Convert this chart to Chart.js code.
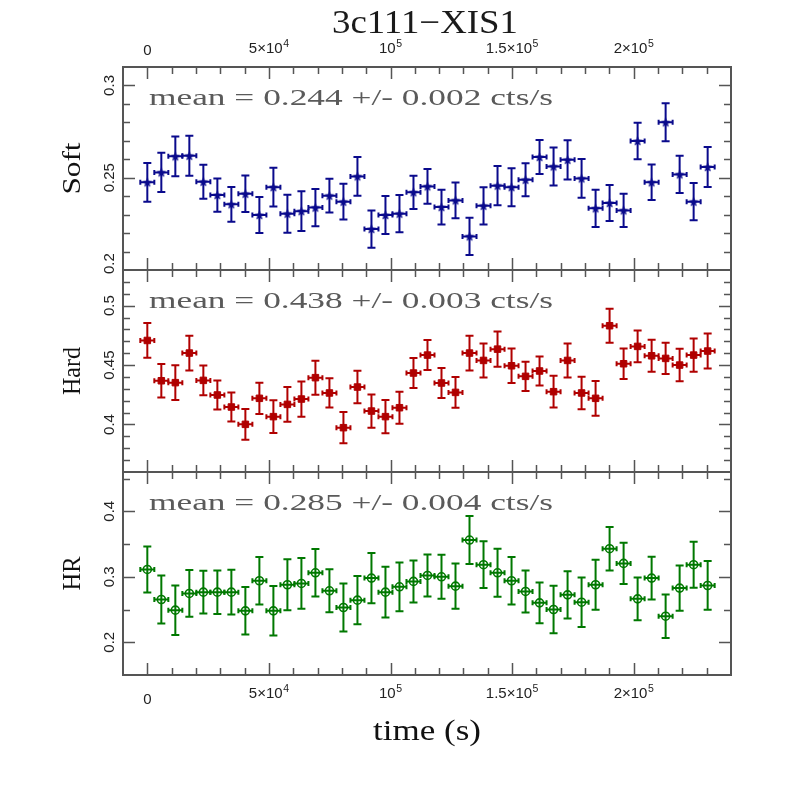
<!DOCTYPE html>
<html>
<head>
<meta charset="utf-8">
<script src="https://cdn.jsdelivr.net/npm/chart.js@4/dist/chart.umd.min.js"></script>
<style>
html,body{margin:0;padding:0;background:#fff;width:797px;height:797px;overflow:hidden}
#wrap{position:relative;width:797px;height:797px;background:#fff}
canvas{position:absolute;left:0;top:0}
</style>
</head>
<body>
<div id="wrap">
<canvas id="c0" width="797" height="797"></canvas>
<canvas id="c1" width="797" height="797"></canvas>
<canvas id="c2" width="797" height="797"></canvas>
</div>
<script>
// ---------------- DATA ----------------
const chartTitle = '3c111\u2212XIS1';
const xAxisTitle = 'time (s)';
const timeValues = [0,5760,11520,17280,23040,28800,34560,40320,46080,51840,57600,63360,69120,74880,80640,86400,92160,97920,103680,109440,115200,120960,126720,132480,138240,144000,149760,155520,161280,167040,172800,178560,184320,190080,195840,201600,207360,213120,218880,224640,230400];
const timeHalfWidth = 2880;

const softValues = [0.2475,0.2529,0.2616,0.2619,0.2478,0.2406,0.2356,0.2413,0.2298,0.2449,0.2305,0.2319,0.2338,0.2403,0.2370,0.2507,0.2222,0.2298,0.2305,0.2421,0.2453,0.2341,0.2377,0.2182,0.2348,0.2457,0.2449,0.2489,0.2612,0.2561,0.2597,0.2496,0.2334,0.2363,0.2323,0.2699,0.2475,0.2800,0.2518,0.2370,0.2558];
const softErrors = [0.0105,0.0106,0.0108,0.0108,0.0092,0.0090,0.0094,0.0099,0.0097,0.0105,0.0103,0.0108,0.0101,0.0092,0.0097,0.0105,0.0101,0.0103,0.0101,0.0090,0.0094,0.0094,0.0097,0.0101,0.0101,0.0106,0.0103,0.0090,0.0092,0.0103,0.0106,0.0105,0.0101,0.0097,0.0090,0.0099,0.0096,0.0103,0.0101,0.0101,0.0108];

const hardValues = [0.4707,0.4368,0.4352,0.4601,0.4371,0.4248,0.4147,0.4001,0.4220,0.4066,0.4169,0.4214,0.4394,0.4265,0.3973,0.4315,0.4113,0.4066,0.4141,0.4433,0.4584,0.4349,0.4270,0.4601,0.4539,0.4634,0.4494,0.4405,0.4450,0.4276,0.4539,0.4265,0.4220,0.4831,0.4511,0.4657,0.4578,0.4556,0.4500,0.4584,0.4618];
const hardErrors = [0.0146,0.0140,0.0146,0.0146,0.0126,0.0123,0.0123,0.0129,0.0132,0.0137,0.0146,0.0148,0.0143,0.0123,0.0132,0.0137,0.0140,0.0140,0.0134,0.0126,0.0126,0.0126,0.0129,0.0146,0.0143,0.0148,0.0146,0.0123,0.0123,0.0134,0.0143,0.0137,0.0146,0.0143,0.0129,0.0134,0.0134,0.0132,0.0137,0.0140,0.0148];

const hrValues = [0.3112,0.2653,0.2490,0.2745,0.2765,0.2765,0.2765,0.2480,0.2939,0.2480,0.2878,0.2898,0.3061,0.2786,0.2531,0.2643,0.2980,0.2765,0.2847,0.2929,0.3020,0.3000,0.2857,0.3561,0.3184,0.3061,0.2939,0.2776,0.2602,0.2500,0.2724,0.2612,0.2878,0.3429,0.3204,0.2663,0.2980,0.2398,0.2827,0.3184,0.2867];
const hrErrors = [0.0352,0.0367,0.0378,0.0357,0.0327,0.0332,0.0342,0.0362,0.0362,0.0378,0.0388,0.0388,0.0362,0.0327,0.0367,0.0367,0.0383,0.0388,0.0372,0.0321,0.0321,0.0337,0.0347,0.0367,0.0357,0.0367,0.0362,0.0321,0.0311,0.0362,0.0362,0.0378,0.0383,0.0332,0.0316,0.0327,0.0327,0.0332,0.0347,0.0352,0.0372];

const panelNames = ['Soft','Hard','HR'];
const meanTexts = ['mean = 0.244 +/- 0.002 cts/s','mean = 0.438 +/- 0.003 cts/s','mean = 0.285 +/- 0.004 cts/s'];

const xRange = [-10000, 240000];
const xMajorTicks = [0, 50000, 100000, 150000, 200000];
const xTickBase = ['0', '5\u00d710', '10', '1.5\u00d710', '2\u00d710'];
const xTickExp  = ['',  '4',       '5',  '5',           '5'];
const xMinorStep = 10000;

const softRange = [0.2, 0.31];
const hardRange = [0.36, 0.53];
const hrRange = [0.15, 0.46];
const softTicks = [0.2, 0.25, 0.3];
const hardTicks = [0.4, 0.45, 0.5];
const hrTicks = [0.2, 0.3, 0.4];
const softTickLabels = ['0.2','0.25','0.3'];
const hardTickLabels = ['0.4','0.45','0.5'];
const hrTickLabels = ['0.2','0.3','0.4'];
const softMinor = 0.01, hardMinor = 0.01, hrMinor = 0.05;

// ---------------- LAYOUT / STYLE ----------------
const W = 797, H = 797;
const plotLeft = 123, plotRight = 731;
const panelEdges = [67, 270, 472, 675];
const frameColor = '#555555';
const textColor = '#222222';
const serif = '"Liberation Serif", "Times New Roman", serif';
const sans = '"Liberation Sans", Arial, sans-serif';

function starImage(color) {
  const c = document.createElement('canvas');
  c.width = 12; c.height = 12;
  const g = c.getContext('2d');
  g.fillStyle = color;
  g.beginPath();
  for (let k = 0; k < 10; k++) {
    const r = (k % 2 === 0) ? 5.2 : 2.3;
    const a = -Math.PI / 2 + k * Math.PI / 5;
    const px = 6 + r * Math.cos(a), py = 6.4 + r * Math.sin(a);
    if (k === 0) g.moveTo(px, py); else g.lineTo(px, py);
  }
  g.closePath(); g.fill();
  return c;
}

const panels = [
  {values: softValues, errors: softErrors, range: softRange, ticks: softTicks, tickLabels: softTickLabels, minor: softMinor,
   color: '#0a0a8c', pointStyle: starImage('#0a0a8c'), radius: 5, fill: '#0a0a8c', bw: 0},
  {values: hardValues, errors: hardErrors, range: hardRange, ticks: hardTicks, tickLabels: hardTickLabels, minor: hardMinor,
   color: '#b00000', pointStyle: 'rect', radius: 4.6, fill: '#b00000', bw: 1},
  {values: hrValues, errors: hrErrors, range: hrRange, ticks: hrTicks, tickLabels: hrTickLabels, minor: hrMinor,
   color: '#007800', pointStyle: 'circle', radius: 4, fill: 'rgba(0,0,0,0)', bw: 1.6}
];

function fitText(ctx, text, x, y, targetW, align) {
  const w0 = ctx.measureText(text).width;
  const sx = targetW / w0;
  ctx.save();
  ctx.translate(x, y);
  ctx.scale(sx, 1);
  ctx.textAlign = align;
  ctx.fillText(text, 0, 0);
  ctx.restore();
}

function drawExpLabel(ctx, base, exp, cx, baseline) {
  const baseFont = '15px ' + sans;
  const supFont = '10.5px ' + sans;
  ctx.font = baseFont;
  const wb = ctx.measureText(base).width;
  ctx.font = supFont;
  const we = exp ? ctx.measureText(exp).width + 0.5 : 0;
  const x0 = cx - (wb + we) / 2;
  ctx.textAlign = 'left';
  ctx.textBaseline = 'alphabetic';
  ctx.font = baseFont;
  ctx.fillText(base, x0, baseline);
  if (exp) { ctx.font = supFont; ctx.fillText(exp, x0 + wb + 0.5, baseline - 6); }
}

const errorBarPlugin = {
  id: 'errbars',
  beforeDatasetsDraw(chart, args, opts) {
    const ctx = chart.ctx, xs = chart.scales.x, ys = chart.scales.y;
    const p = opts.panel;
    ctx.save();
    ctx.strokeStyle = p.color;
    ctx.lineWidth = 2;
    ctx.lineCap = 'butt';
    timeValues.forEach((t, i) => {
      const v = p.values[i], e = p.errors[i];
      const px = xs.getPixelForValue(t), py = ys.getPixelForValue(v);
      const x1 = xs.getPixelForValue(t - timeHalfWidth), x2 = xs.getPixelForValue(t + timeHalfWidth);
      const y1 = ys.getPixelForValue(v - e), y2 = ys.getPixelForValue(v + e);
      ctx.beginPath();
      ctx.moveTo(px, y1); ctx.lineTo(px, y2);
      ctx.moveTo(px - 4, y1); ctx.lineTo(px + 4, y1);
      ctx.moveTo(px - 4, y2); ctx.lineTo(px + 4, y2);
      ctx.moveTo(x1, py); ctx.lineTo(x2, py);
      ctx.moveTo(x1, py - 2.5); ctx.lineTo(x1, py + 2.5);
      ctx.moveTo(x2, py - 2.5); ctx.lineTo(x2, py + 2.5);
      ctx.stroke();
    });
    ctx.restore();
  }
};

const framePlugin = {
  id: 'frame',
  afterDraw(chart, args, opts) {
    const ctx = chart.ctx, xs = chart.scales.x, ys = chart.scales.y;
    const a = chart.chartArea;
    const p = opts.panel, idx = opts.index;
    ctx.save();
    // ticks
    ctx.strokeStyle = frameColor;
    ctx.lineWidth = 1.5;
    ctx.beginPath();
    const nX = Math.round((xRange[1] - xRange[0]) / xMinorStep);
    for (let k = 1; k < nX; k++) {
      const t = xRange[0] + k * xMinorStep;
      const px = Math.round(xs.getPixelForValue(t)) + 0.5;
      const len = xMajorTicks.includes(t) ? 12 : 7;
      ctx.moveTo(px, a.top); ctx.lineTo(px, a.top + len);
      ctx.moveTo(px, a.bottom); ctx.lineTo(px, a.bottom - len);
    }
    const nY = Math.round((p.range[1] - p.range[0]) / p.minor);
    for (let k = 0; k <= nY; k++) {
      const v = +(p.range[0] + k * p.minor).toFixed(4);
      if (v <= p.range[0] || v >= p.range[1]) continue;
      const py = Math.round(ys.getPixelForValue(v)) + 0.5;
      const major = p.ticks.some(tv => Math.abs(tv - v) < 1e-6);
      const len = major ? 12 : 7;
      ctx.moveTo(a.left, py); ctx.lineTo(a.left + len, py);
      ctx.moveTo(a.right, py); ctx.lineTo(a.right - len, py);
    }
    ctx.stroke();
    // frame
    ctx.lineWidth = 2;
    ctx.strokeRect(a.left, a.top, a.right - a.left, a.bottom - a.top);

    // y tick labels (rotated)
    ctx.fillStyle = textColor;
    ctx.font = '15px ' + sans;
    p.ticks.forEach((tv, k) => {
      let py = ys.getPixelForValue(tv);
      const label = p.tickLabels[k];
      const hw = ctx.measureText(label).width / 2;
      if (py + hw > a.bottom + 4) py = a.bottom + 4 - hw;
      if (py - hw < a.top - 4) py = a.top - 4 + hw;
      ctx.save();
      ctx.translate(110, py);
      ctx.rotate(-Math.PI / 2);
      ctx.textAlign = 'center';
      ctx.textBaseline = 'middle';
      ctx.fillText(label, 0, 0);
      ctx.restore();
    });

    // y title
    ctx.fillStyle = '#111111';
    ctx.font = '25px ' + serif;
    ctx.save();
    ctx.translate(80, (a.top + a.bottom) / 2);
    ctx.rotate(-Math.PI / 2);
    ctx.textBaseline = 'alphabetic';
    const ytw = [52, 48, 34][idx];
    fitText(ctx, panelNames[idx], 0, 0, ytw, 'center');
    ctx.restore();

    // mean text
    ctx.fillStyle = '#5a5a5a';
    ctx.font = '23px ' + serif;
    ctx.textBaseline = 'alphabetic';
    fitText(ctx, meanTexts[idx], 149, a.top + 38, 404, 'left');

    ctx.fillStyle = textColor;
    if (idx === 0) {
      ctx.fillStyle = '#1a1a1a';
      ctx.font = '33px ' + serif;
      fitText(ctx, chartTitle, 425, 33, 186, 'center');
      ctx.fillStyle = textColor;
      xMajorTicks.forEach((t, k) => {
        const px = xs.getPixelForValue(t);
        drawExpLabel(ctx, xTickBase[k], xTickExp[k], px, xTickExp[k] ? 53 : 55);
      });
    }
    if (idx === 2) {
      xMajorTicks.forEach((t, k) => {
        const px = xs.getPixelForValue(t);
        drawExpLabel(ctx, xTickBase[k], xTickExp[k], px, xTickExp[k] ? 698 : 704);
      });
      ctx.fillStyle = '#111111';
      ctx.font = '29px ' + serif;
      fitText(ctx, xAxisTitle, 427, 740, 108, 'center');
    }
    ctx.restore();
  }
};

panels.forEach((p, idx) => {
  const ctx = document.getElementById('c' + idx);
  new Chart(ctx, {
    type: 'scatter',
    data: {
      datasets: [{
        label: panelNames[idx],
        data: timeValues.map((t, i) => ({x: t, y: p.values[i]})),
        pointStyle: p.pointStyle,
        pointRadius: p.radius,
        pointBackgroundColor: p.fill,
        pointBorderColor: p.color,
        pointBorderWidth: p.bw,
        showLine: false,
        clip: false
      }]
    },
    options: {
      responsive: false,
      animation: false,
      devicePixelRatio: 1,
      events: [],
      layout: {padding: {left: plotLeft, right: W - plotRight, top: panelEdges[idx], bottom: H - panelEdges[idx + 1]}},
      scales: {
        x: {type: 'linear', min: xRange[0], max: xRange[1], display: false},
        y: {type: 'linear', min: p.range[0], max: p.range[1], display: false}
      },
      plugins: {
        legend: {display: false},
        tooltip: {enabled: false},
        title: {display: false},
        errbars: {panel: p},
        frame: {panel: p, index: idx}
      }
    },
    plugins: [errorBarPlugin, framePlugin]
  });
});
</script>
</body>
</html>
